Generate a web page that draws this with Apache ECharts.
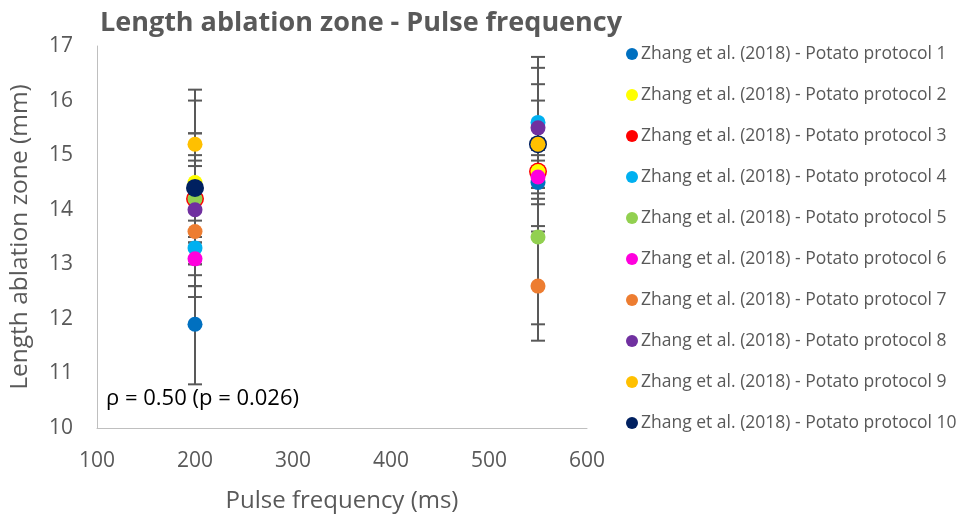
<!DOCTYPE html>
<html>
<head>
<meta charset="utf-8">
<script src="https://cdn.jsdelivr.net/npm/echarts@6/dist/echarts.min.js"></script>
<style>html,body{margin:0;padding:0;background:#fff;}#chart{width:962px;height:522px;}</style>
</head>
<body>
<div id="chart"></div>
<script>
const seriesNames = [
  'Zhang et al. (2018) - Potato protocol 1',
  'Zhang et al. (2018) - Potato protocol 2',
  'Zhang et al. (2018) - Potato protocol 3',
  'Zhang et al. (2018) - Potato protocol 4',
  'Zhang et al. (2018) - Potato protocol 5',
  'Zhang et al. (2018) - Potato protocol 6',
  'Zhang et al. (2018) - Potato protocol 7',
  'Zhang et al. (2018) - Potato protocol 8',
  'Zhang et al. (2018) - Potato protocol 9',
  'Zhang et al. (2018) - Potato protocol 10'
];
const seriesColors = ['#0070C0','#FFFF00','#FF0000','#00B0F0','#92D050','#FF00DD','#ED7D31','#7030A0','#FFC000','#002060'];
const frequencies = [200, 550];
// lengths per protocol [at 200 ms, at 550 ms]
const lengths = [
  [11.9, 14.5],
  [14.5, 14.7],
  [14.2, 14.7],
  [13.3, 15.6],
  [14.2, 13.5],
  [13.1, 14.6],
  [13.6, 12.6],
  [14.0, 15.5],
  [15.2, 15.2],
  [14.4, 15.2]
];
// symmetric error (+/-) per protocol [at 200, at 550]
const errors = [
  [1.1, 0.8],
  [1.5, 0.2],
  [0.7, 0.4],
  [0.5, 1.2],
  [0.8, 1.6],
  [0.5, 0.4],
  [1.2, 1.0],
  [1.4, 1.1],
  [1.0, 1.1],
  [1.0, 0.8]
];
const xTicks = {min: 100, max: 600, interval: 100};
const yTicks = {min: 10, max: 17, interval: 1};
const annotation = 'ρ = 0.50 (p = 0.026)';

const grey = '#595959';
const font = 'Open Sans';

// draw order: red first (ring under yellow/green), navy before gold
const drawOrder = [2, 0, 1, 3, 4, 5, 6, 7, 9, 8];

const errData = [];
lengths.forEach((row, i) => row.forEach((v, j) => {
  errData.push([frequencies[j], v - errors[i][j], v + errors[i][j]]);
}));

const series = [{
  type: 'custom',
  name: 'errorbars',
  z: 1,
  silent: true,
  renderItem: function (params, api) {
    const x = api.value(0);
    const lo = api.coord([x, api.value(1)]);
    const hi = api.coord([x, api.value(2)]);
    const hw = 7;
    const st = {stroke: grey, lineWidth: 2};
    return {type: 'group', children: [
      {type: 'line', shape: {x1: lo[0], y1: lo[1], x2: hi[0], y2: hi[1]}, style: st},
      {type: 'line', shape: {x1: lo[0]-hw, y1: lo[1], x2: lo[0]+hw, y2: lo[1]}, style: st},
      {type: 'line', shape: {x1: hi[0]-hw, y1: hi[1], x2: hi[0]+hw, y2: hi[1]}, style: st}
    ]};
  },
  encode: {x: 0, y: [1, 2]},
  data: errData
}];

drawOrder.forEach(i => {
  const big = (i === 2 || i === 9);
  series.push({
    type: 'scatter',
    name: seriesNames[i],
    z: 2,
    symbol: 'circle',
    symbolSize: big ? 18 : 15,
    itemStyle: {color: seriesColors[i], opacity: 1},
    emphasis: {disabled: true},
    data: frequencies.map((f, j) => [f, lengths[i][j]])
  });
});

const chart = echarts.init(document.getElementById('chart'), null, {renderer: 'canvas'});
chart.setOption({
  animation: false,
  backgroundColor: '#fff',
  title: {
    text: 'Length ablation zone - Pulse frequency',
    left: 356, top: 5, textAlign: 'center',
    textStyle: {fontFamily: font, fontSize: 27, fontWeight: 'bold', color: grey}
  },
  grid: {left: 96, right: 375, top: 46, bottom: 94, containLabel: false},
  legend: {
    data: seriesNames,
    orient: 'vertical',
    left: 621, top: 40,
    icon: 'circle',
    itemWidth: 12, itemHeight: 12,
    itemGap: 23,
    textStyle: {fontFamily: font, fontSize: 17.5, color: grey, padding: [0,0,0,-2]},
    selectedMode: false
  },
  xAxis: {
    type: 'value', min: xTicks.min, max: xTicks.max, interval: xTicks.interval,
    name: 'Pulse frequency (ms)', nameLocation: 'middle', nameGap: 61,
    nameTextStyle: {fontFamily: font, fontSize: 24, color: grey},
    axisLine: {show: true, lineStyle: {color: '#bfbfbf', width: 1}},
    axisTick: {show: false},
    splitLine: {show: false},
    axisLabel: {fontFamily: font, fontSize: 21, color: grey, margin: 23}
  },
  yAxis: {
    type: 'value', min: yTicks.min, max: yTicks.max, interval: yTicks.interval,
    name: 'Length ablation zone (mm)', nameLocation: 'middle', nameGap: 64,
    nameTextStyle: {fontFamily: font, fontSize: 24.5, color: grey},
    axisLine: {show: true, lineStyle: {color: '#bfbfbf', width: 1}},
    axisTick: {show: false},
    splitLine: {show: false},
    axisLabel: {fontFamily: font, fontSize: 21, color: grey, margin: 36, align: 'center'}
  },
  graphic: [{
    type: 'text', left: 106, top: 388, z: 10,
    style: {text: annotation, fontFamily: font, fontSize: 22, fill: '#000'}
  }],
  series: series
});
</script>
</body>
</html>
